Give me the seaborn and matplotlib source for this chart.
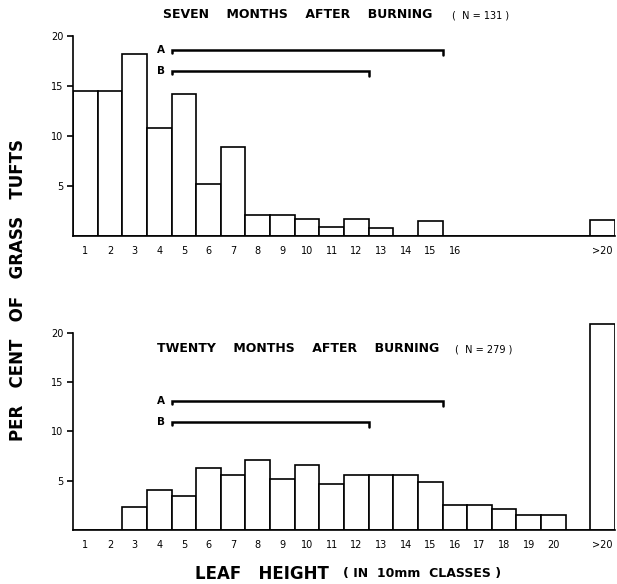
import matplotlib
matplotlib.use("Agg")
import matplotlib.pyplot as plt
import seaborn as sns
import pandas as pd

# leaf height classes (10 mm), with an empty slot before ">20"
classes = [str(i) for i in range(1, 21)] + ["gap", ">20"]

# per cent of grass tufts, seven months after burning (N=131)
seven_months = [14.5, 14.5, 18.2, 10.8, 14.2, 5.2, 8.9, 2.1, 2.1, 1.7,
                0.9, 1.7, 0.8, 0.0, 1.5, 0.0, 0.0, 0.0, 0.0, 0.0,
                0.0, 1.6]
# per cent of grass tufts, twenty months after burning (N=279)
twenty_months = [0.0, 0.0, 2.3, 4.1, 3.4, 6.3, 5.6, 7.1, 5.2, 6.6,
                 4.7, 5.6, 5.6, 5.6, 4.9, 2.5, 2.5, 2.1, 1.5, 1.5,
                 0.0, 20.9]

top_ticklabels = [str(i) for i in range(1, 17)] + ["", "", "", "", "", ">20"]
bottom_ticklabels = [str(i) for i in range(1, 21)] + ["", ">20"]

# class ranges marked A and B (first class, last class) and their heights
range_a = (5, 15)
range_b = (5, 12)
levels_top = {"A": 18.6, "B": 16.5}
levels_bottom = {"A": 13.1, "B": 11.0}

sns.set_style("ticks")
plt.rcParams["font.family"] = ["DejaVu Sans"]
plt.rcParams["text.color"] = "black"
plt.rcParams["xtick.color"] = "black"
plt.rcParams["ytick.color"] = "black"

fig = plt.figure(figsize=(6.17, 5.84), dpi=100)
ax_top = fig.add_axes([73 / 617, 1 - 236 / 584, 542 / 617, 200 / 584])
ax_bot = fig.add_axes([73 / 617, 1 - 530 / 584, 542 / 617, 207 / 584])


def draw_panel(ax, values, ticklabels, levels, ymax):
    df = pd.DataFrame({"cls": classes, "pct": values})
    sns.barplot(data=df, x="cls", y="pct", order=classes, color="white",
                edgecolor="black", linewidth=1.2, width=1.0, errorbar=None,
                saturation=1, ax=ax)
    ax.set_xlim(-0.5, len(classes) - 0.5)
    ax.set_ylim(0, ymax)
    ax.set_yticks([5, 10, 15, 20])
    ax.set_yticklabels(["5", "10", "15", "20"], fontsize=7)
    ax.tick_params(axis="y", length=4, width=1.2, pad=3)
    ax.set_xticks(range(len(classes)))
    ax.set_xticklabels(ticklabels, fontsize=7)
    ax.tick_params(axis="x", length=0, pad=7)
    ax.set_xlabel("")
    ax.set_ylabel("")
    sns.despine(ax=ax)
    ax.spines["left"].set_bounds(0, 20)
    for sp in ("left", "bottom"):
        ax.spines[sp].set_linewidth(1.2)
        ax.spines[sp].set_color("black")
    ax.patch.set_alpha(0)
    # A / B ranges as brackets
    for name, rng in (("A", range_a), ("B", range_b)):
        y = levels[name]
        x0, x1 = rng[0] - 1.5, rng[1] - 0.5
        ax.plot([x0, x0, x1, x1], [y - 0.3, y, y, y - 0.5], color="black",
                lw=1.8, solid_joinstyle="miter", clip_on=False)
        ax.text(x0 - 0.25, y, name, ha="right", va="center", fontsize=7.5,
                fontweight="bold")


draw_panel(ax_top, seven_months, top_ticklabels, levels_top, 20)
draw_panel(ax_bot, twenty_months, bottom_ticklabels, levels_bottom, 21)

# panel titles
fig.text(163 / 617, 1 - 15 / 584, "SEVEN    MONTHS    AFTER    BURNING",
         fontsize=9, fontweight="bold", ha="left", va="center")
fig.text(452 / 617, 1 - 15 / 584, "(  N = 131 )", fontsize=7, ha="left", va="center")
fig.text(157 / 617, 1 - 349 / 584, "TWENTY    MONTHS    AFTER    BURNING",
         fontsize=9, fontweight="bold", ha="left", va="center")
fig.text(455 / 617, 1 - 349 / 584, "(  N = 279 )", fontsize=7, ha="left", va="center")

# axis titles
fig.text(18 / 617, 1 - 290 / 584, "PER   CENT   OF   GRASS   TUFTS", rotation=90,
         fontsize=12, fontweight="bold", ha="center", va="center")
fig.text(195 / 617, 1 - 574 / 584, "LEAF   HEIGHT", fontsize=12,
         fontweight="bold", ha="left", va="center")
fig.text(343 / 617, 1 - 574 / 584, "( IN  10mm  CLASSES )", fontsize=9,
         fontweight="bold", ha="left", va="center")

fig.savefig("out.png", dpi=100)
